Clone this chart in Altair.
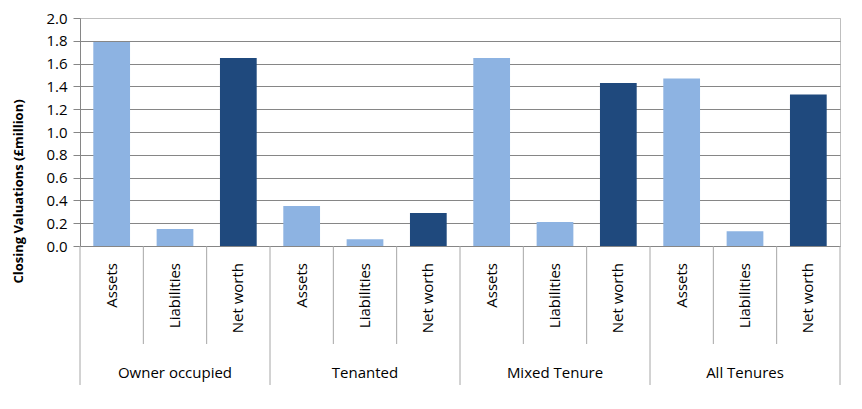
import altair as alt
import pandas as pd

groups = ["Owner occupied", "Tenanted", "Mixed Tenure", "All Tenures"]
items = ["Assets", "Liabilities", "Net worth"]
assets = [1.79, 0.35, 1.65, 1.47]
liabilities = [0.15, 0.06, 0.21, 0.13]
net_worth = [1.65, 0.29, 1.43, 1.33]
colors = ["#8db3e2", "#8db3e2", "#1f497d"]

series = [assets, liabilities, net_worth]
rows = []
for g, grp in enumerate(groups):
    for i, it in enumerate(items):
        rows.append({"idx": g * len(items) + i, "group": grp, "item": it, "value": series[i][g]})
df = pd.DataFrame(rows)
n = len(df)

FONT = "Open Sans"
W, H = 760, 228

xscale = alt.Scale(domain=[0, n], nice=False, zero=False)

bars = alt.Chart(df).transform_calculate(
    x0="datum.idx + 0.21", x1="datum.idx + 0.79"
).mark_bar().encode(
    x=alt.X("x0:Q", scale=xscale, axis=None),
    x2="x1:Q",
    y=alt.Y("value:Q", scale=alt.Scale(domain=[0, 2], nice=False),
            axis=alt.Axis(values=[0, 0.2, 0.4, 0.6, 0.8, 1.0, 1.2, 1.4, 1.6, 1.8, 2.0],
                          format=".1f", title="Closing Valuations (£million)",
                          titleX=-62, titleY=173, titleAngle=270, titleAlign="center",
                          titleBaseline="middle", titleFont=FONT, titleFontSize=13,
                          titleFontWeight="bold", titleColor="#000000",
                          labelFont=FONT, labelFontSize=15, labelColor="#000000",
                          labelPadding=6, tickSize=7, tickColor="#868686",
                          domainColor="#868686",
                          gridColor={"condition": {"test": "datum.value >= 2", "value": "#bfbfbf"},
                                     "value": "#868686"})),
    y2=alt.datum(0),
    color=alt.Color("item:N", scale=alt.Scale(domain=items, range=colors), legend=None),
)

bounds = pd.DataFrame({"b": list(range(n + 1))})
bounds["major"] = bounds["b"] % len(items) == 0

minor_rules = alt.Chart(bounds).transform_filter("!datum.major").mark_rule(
    color="#a6a6a6", strokeWidth=1
).encode(x=alt.X("b:Q", scale=xscale), y=alt.value(H), y2=alt.value(H + 98))

major_rules = alt.Chart(bounds).transform_filter("datum.major").mark_rule(
    color="#a6a6a6", strokeWidth=1
).encode(x=alt.X("b:Q", scale=xscale), y=alt.value(H), y2=alt.value(H + 139))

item_labels = alt.Chart(df).transform_calculate(xc="datum.idx + 0.5").mark_text(
    angle=270, align="right", baseline="middle", font=FONT, fontSize=15, color="#000000"
).encode(x=alt.X("xc:Q", scale=xscale), y=alt.value(H + 17), text="item:N")

gdf = pd.DataFrame({"group": groups, "g": list(range(len(groups)))})
group_labels = alt.Chart(gdf).transform_calculate(
    gc="datum.g * 3 + 1.5"
).mark_text(align="center", baseline="middle", font=FONT, fontSize=15, color="#000000").encode(
    x=alt.X("gc:Q", scale=xscale), y=alt.value(H + 127), text="group:N"
)

chart = alt.layer(bars, minor_rules, major_rules, item_labels, group_labels).properties(
    width=W, height=H,
    autosize=alt.AutoSizeParams(type="none"),
    padding={"left": 72, "top": 10, "right": 14, "bottom": 155},
).configure_view(stroke="#bfbfbf", strokeWidth=1)

chart.save("out.html", embed_options={"renderer": "svg", "actions": False})
